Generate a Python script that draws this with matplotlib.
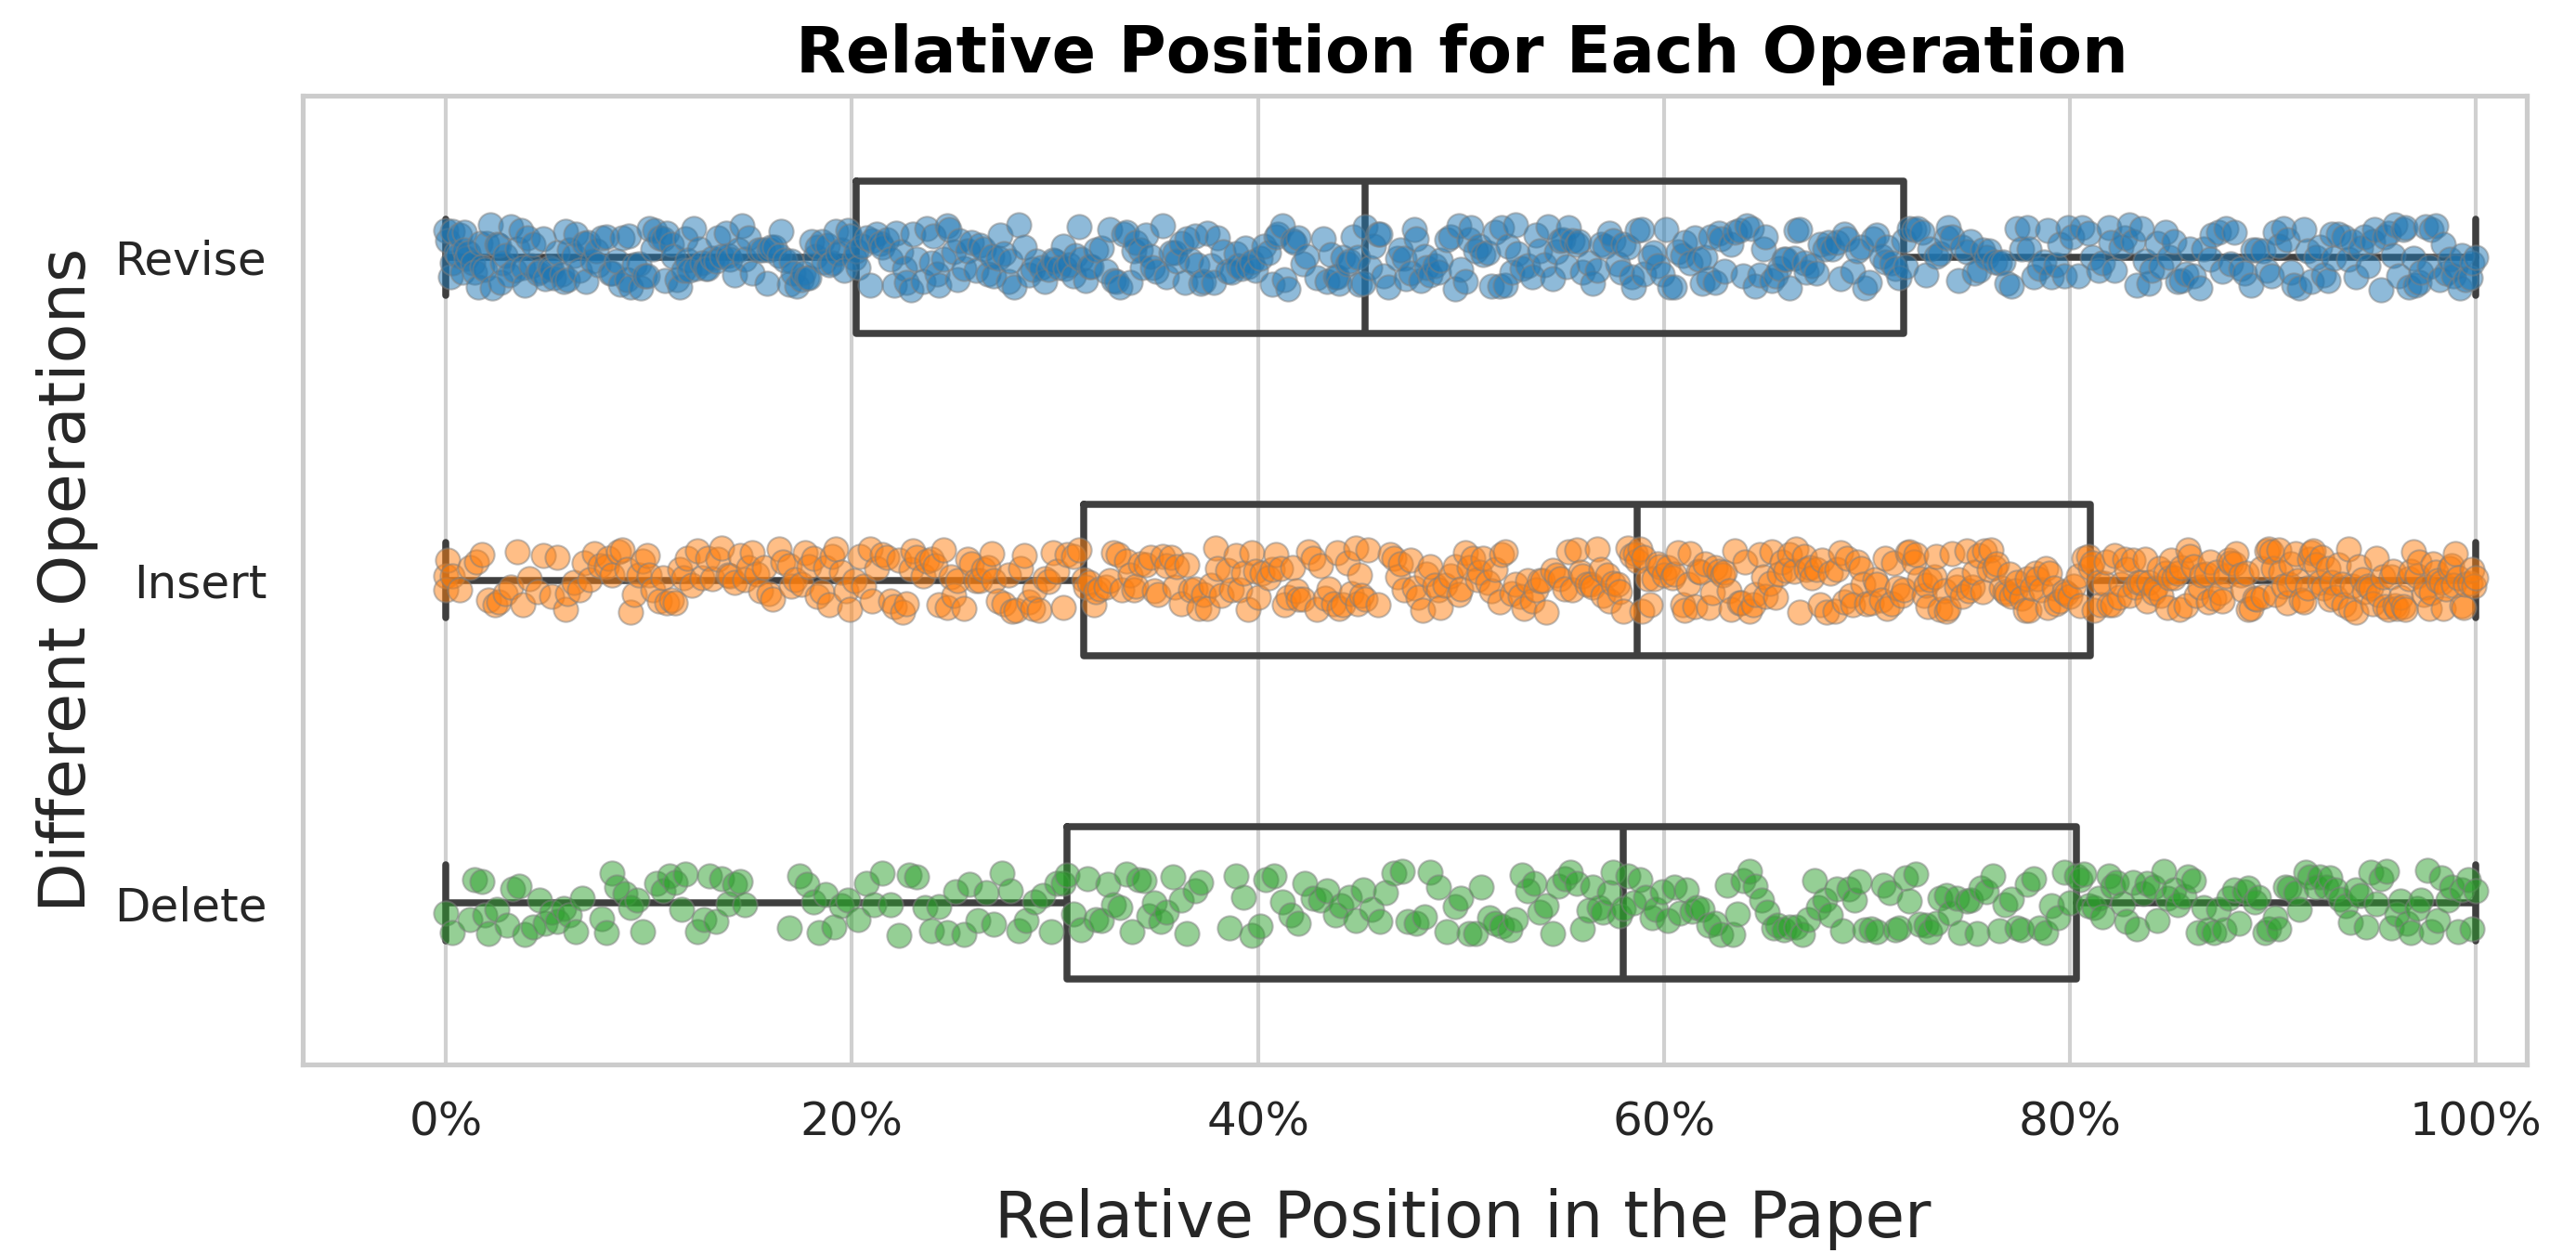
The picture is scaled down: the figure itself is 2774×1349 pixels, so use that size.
import numpy as np
import matplotlib
matplotlib.use('Agg')
import matplotlib.pyplot as plt
import seaborn as sns
from matplotlib.ticker import PercentFormatter

operations = ['Revise', 'Insert', 'Delete']
colors = ['#1f77b4', '#ff7f0e', '#2ca02c']
x_ticks = [0.0, 0.2, 0.4, 0.6, 0.8, 1.0]

# relative positions (in %)
revise_pct = [
    0.0, 0.1, 0.2, 0.3, 0.3, 0.5, 0.6, 0.7, 0.8, 0.9, 0.9,
    1.0, 1.1, 1.3, 1.4, 1.6, 1.7, 1.8, 1.9,
    2.0, 2.2, 2.3, 2.5, 2.6, 2.7, 2.8, 2.9,
    3.1, 3.2, 3.4, 3.5, 3.7, 3.8, 3.9,
    4.0, 4.2, 4.3, 4.5, 4.6, 4.8, 4.9,
    5.1, 5.2, 5.3, 5.5, 5.7, 5.8, 5.9,
    6.0, 6.1, 6.3, 6.4, 6.6, 6.8, 6.9,
    7.0, 7.2, 7.4, 7.5, 7.7, 7.9,
    8.1, 8.2, 8.4, 8.6, 8.7, 8.9,
    9.0, 9.1, 9.3, 9.5, 9.6, 9.8, 9.9,
    10.0, 10.2, 10.3, 10.5, 10.7, 10.8, 10.9,
    11.1, 11.2, 11.4, 11.5, 11.7, 11.8, 11.9,
    12.0, 12.2, 12.3, 12.5, 12.6, 12.8, 12.9,
    13.1, 13.3, 13.4, 13.6, 13.8, 13.9,
    14.0, 14.2, 14.4, 14.6, 14.7, 14.9,
    15.1, 15.4, 15.6, 15.8, 15.9,
    16.0, 16.2, 16.4, 16.5, 16.7, 16.9,
    17.0, 17.1, 17.3, 17.5, 17.6, 17.8, 17.9,
    18.0, 18.2, 18.3, 18.5, 18.6, 18.8, 18.9,
    19.0, 19.2, 19.3, 19.5, 19.6, 19.8, 19.9, 20.1,
    20.2,
    20.3, 20.5, 20.7, 20.9,
    21.0, 21.2, 21.4, 21.5, 21.7, 21.9,
    22.1, 22.2, 22.4, 22.6, 22.7, 22.9,
    23.0, 23.2, 23.5, 23.7, 23.9,
    24.0, 24.2, 24.3, 24.5, 24.7, 24.8,
    25.0, 25.2, 25.3, 25.5, 25.7, 25.9,
    26.1, 26.3, 26.5, 26.7, 26.9,
    27.0, 27.2, 27.3, 27.5, 27.7, 27.8,
    28.0, 28.2, 28.5, 28.7, 28.9,
    29.1, 29.3, 29.5, 29.7, 29.9,
    30.0, 30.2, 30.4, 30.5, 30.7, 30.9,
    31.0, 31.2, 31.3, 31.5, 31.7, 31.8,
    32.0, 32.3, 32.5, 32.7, 32.9,
    33.0, 33.2, 33.4, 33.5, 33.7, 33.9,
    34.0, 34.2, 34.3, 34.5, 34.7, 34.8,
    35.0, 35.3, 35.5, 35.7, 35.9,
    36.0, 36.2, 36.4, 36.5, 36.7, 36.9,
    37.0, 37.2, 37.3, 37.5, 37.7, 37.8,
    38.0, 38.3, 38.5, 38.7, 38.9,
    39.0, 39.2, 39.4, 39.5, 39.7, 39.9,
    40.1, 40.3, 40.5, 40.7, 40.9,
    41.0, 41.2, 41.3, 41.5, 41.7, 41.8,
    42.0, 42.2, 42.4, 42.9,
    43.2, 43.4, 43.6, 43.8, 43.9,
    44.0, 44.2, 44.4, 44.5, 44.7, 44.9,
    45.0, 45.2,
    45.3,
    45.5, 45.7, 45.9,
    46.0, 46.2, 46.4, 46.9,
    47.0, 47.2, 47.3, 47.5, 47.7, 47.8,
    48.0, 48.2, 48.3, 48.5, 48.7, 48.9,
    49.0, 49.3, 49.5, 49.7, 49.9,
    50.0, 50.2, 50.4, 50.5, 50.7, 50.9,
    51.1, 51.3, 51.5, 51.7, 51.9,
    52.0, 52.2, 52.3, 52.5, 52.7, 52.8,
    53.0, 53.3, 53.5, 53.7, 53.9,
    54.1, 54.3, 54.5, 54.7, 54.9,
    55.0, 55.2, 55.3, 55.5, 55.7, 55.8,
    56.0, 56.3, 56.5, 56.7, 56.9,
    57.1, 57.3, 57.5, 57.7, 57.9,
    58.0, 58.2, 58.4, 58.5, 58.7, 58.9,
    59.0, 59.3, 59.5, 59.7, 59.9,
    60.1, 60.3, 60.5, 60.7, 60.9,
    61.0, 61.3, 61.5, 61.7, 61.9,
    62.0, 62.2, 62.3, 62.5, 62.7, 62.8,
    63.0, 63.3, 63.5, 63.7, 63.9,
    64.1, 64.3, 64.5, 64.7, 64.9,
    65.0, 65.3, 65.5, 65.7, 65.9,
    66.0, 66.2, 66.4, 66.5, 66.7, 66.9,
    67.0, 67.3, 67.5, 67.7, 67.9,
    68.1, 68.3, 68.5, 68.7, 68.9,
    69.0, 69.3, 69.5, 69.7, 69.9,
    70.1, 70.3, 70.5, 70.7, 70.9,
    71.0, 71.2, 71.4, 71.6,
    71.8,
    71.9,
    72.1, 72.3, 72.5, 72.7, 72.9,
    73.1, 73.4, 73.6, 73.9,
    74.0, 74.2, 74.5, 74.7, 74.9,
    75.1, 75.3, 75.5, 75.7, 75.9,
    76.0, 76.3, 76.5, 76.7, 76.9,
    77.1, 77.4, 77.6, 77.9,
    78.0, 78.2, 78.5, 78.7, 78.9,
    79.1, 79.3, 79.5, 79.7, 79.9,
    80.1, 80.4, 80.6, 80.9,
    81.1, 81.4, 81.6, 81.9,
    82.0, 82.2, 82.5, 82.7, 82.9,
    83.1, 83.3, 83.5, 83.7, 83.9,
    84.0, 84.3, 84.5, 84.7, 84.9,
    85.1, 85.3, 85.5, 85.7, 85.9,
    86.1, 86.4, 86.6, 86.9,
    87.0, 87.3, 87.5, 87.7, 87.9,
    88.1, 88.4, 88.6, 88.9,
    89.0, 89.2, 89.5, 89.7, 89.9,
    90.1, 90.3, 90.5, 90.7, 90.9,
    91.0, 91.3, 91.5, 91.7, 91.9,
    92.1, 92.3, 92.5, 92.7, 92.9,
    93.0, 93.2, 93.5, 93.7, 93.9,
    94.1, 94.3, 94.5, 94.7, 94.9,
    95.0, 95.3, 95.5, 95.7, 95.9,
    96.0, 96.2, 96.4, 96.5, 96.7, 96.9,
    97.0, 97.2, 97.3, 97.5, 97.7, 97.8,
    98.0, 98.2, 98.4, 98.5, 98.7, 98.9,
    99.0, 99.2, 99.3, 99.5, 99.7, 99.8,
    100.0,
]

insert_pct = [
    0.0, 0.0, 0.1, 0.3, 0.7,
    1.2, 1.5, 1.8,
    2.1, 2.4, 2.6, 2.9,
    3.2, 3.5, 3.8,
    4.1, 4.5, 4.8,
    5.2, 5.5, 5.9,
    6.0, 6.3, 6.6, 6.8,
    7.1, 7.3, 7.6, 7.9,
    8.0, 8.2, 8.5, 8.7, 8.9,
    9.1, 9.3, 9.5, 9.7, 9.9,
    10.0, 10.2, 10.5, 10.7, 10.9,
    11.1, 11.3, 11.5, 11.7, 11.9,
    12.1, 12.4, 12.6, 12.9,
    13.1, 13.4, 13.6, 13.9,
    14.0, 14.2, 14.5, 14.7, 14.9,
    15.1, 15.3, 15.5, 15.7, 15.9,
    16.1, 16.4, 16.6, 16.9,
    17.0, 17.2, 17.5, 17.7, 17.9,
    18.1, 18.3, 18.5, 18.7, 18.9,
    19.0, 19.2, 19.5, 19.7, 19.9,
    20.1, 20.4, 20.6, 20.9,
    21.0, 21.2, 21.5, 21.7, 21.9,
    22.1, 22.3, 22.5, 22.7, 22.9,
    23.0, 23.2, 23.5, 23.7, 23.9,
    24.1, 24.3, 24.5, 24.7, 24.9,
    25.0, 25.2, 25.5, 25.7, 25.9,
    26.1, 26.3, 26.5, 26.7, 26.9,
    27.0, 27.2, 27.5, 27.7, 27.9,
    28.1, 28.3, 28.5, 28.7, 28.9,
    29.0, 29.2, 29.5, 29.7, 29.9,
    30.1, 30.4, 30.6, 30.9,
    31.2,
    31.4,
    31.5, 31.7, 31.9,
    32.0, 32.2, 32.5, 32.7, 32.9,
    33.1, 33.3, 33.5, 33.7, 33.9,
    34.0, 34.2, 34.5, 34.7, 34.9,
    35.1, 35.3, 35.5, 35.7, 35.9,
    36.0, 36.2, 36.5, 36.7, 36.9,
    37.1, 37.3, 37.5, 37.7, 37.9,
    38.0, 38.2, 38.5, 38.7, 38.9,
    39.1, 39.3, 39.5, 39.7, 39.9,
    40.0, 40.2, 40.5, 40.7, 40.9,
    41.1, 41.3, 41.5, 41.7, 41.9,
    42.0, 42.2, 42.5, 42.7, 42.9,
    43.1, 43.3, 43.5, 43.7, 43.9,
    44.0, 44.2, 44.4, 44.6, 44.8, 44.9,
    45.0, 45.1, 45.3, 45.4, 45.9,
    46.5, 46.7, 46.9,
    47.0, 47.2, 47.5, 47.7, 47.9,
    48.1, 48.3, 48.5, 48.7, 48.9,
    49.0, 49.2, 49.5, 49.7, 49.9,
    50.0, 50.2, 50.4, 50.6, 50.8, 50.9,
    51.1, 51.3, 51.5, 51.7, 51.9,
    52.0, 52.2, 52.5, 52.7, 52.9,
    53.1, 53.3, 53.5, 53.7, 53.9,
    54.0, 54.2, 54.5, 54.7, 54.9,
    55.1, 55.3, 55.5, 55.7, 55.9,
    56.0, 56.2, 56.4, 56.5, 56.7, 56.9,
    57.0, 57.2, 57.3, 57.5, 57.7, 57.8,
    58.0, 58.2, 58.4, 58.6,
    58.7,
    58.8, 58.9,
    59.0, 59.2, 59.3, 59.5, 59.7, 59.8,
    60.0, 60.2, 60.4, 60.5, 60.7, 60.9,
    61.0, 61.2, 61.3, 61.5, 61.7, 61.8,
    62.0, 62.2, 62.4, 62.5, 62.7, 62.9,
    63.0, 63.2, 63.3, 63.5, 63.7, 63.8,
    64.0, 64.2, 64.4, 64.5, 64.7, 64.9,
    65.0, 65.2, 65.3, 65.5, 65.7, 65.8,
    66.0, 66.2, 66.4, 66.5, 66.7, 66.9,
    67.0, 67.2, 67.3, 67.5, 67.7, 67.8,
    68.0, 68.2, 68.4, 68.5, 68.7, 68.9,
    69.0, 69.2, 69.3, 69.5, 69.7, 69.8,
    70.0, 70.2, 70.4, 70.5, 70.7, 70.9,
    71.0, 71.2, 71.3, 71.5, 71.7, 71.8,
    72.0, 72.1, 72.3, 72.4, 72.6, 72.8, 72.9,
    73.0, 73.1, 73.3, 73.4, 73.6, 73.8, 73.9,
    74.0, 74.2, 74.4, 74.5, 74.7, 74.9,
    75.0, 75.2, 75.3, 75.5, 75.7, 75.8,
    76.0, 76.1, 76.3, 76.4, 76.6, 76.8, 76.9,
    77.0, 77.1, 77.3, 77.4, 77.6, 77.8, 77.9,
    78.0, 78.1, 78.3, 78.4, 78.6, 78.8, 78.9,
    79.0, 79.2, 79.3, 79.5, 79.7, 79.8,
    80.0, 80.2, 80.4, 80.5, 80.7, 80.9,
    81.0,
    81.1, 81.2, 81.4, 81.5, 81.7, 81.8, 81.9,
    82.1, 82.2, 82.4, 82.5, 82.7, 82.8, 82.9,
    83.1, 83.2, 83.4, 83.5, 83.7, 83.8, 83.9,
    84.1, 84.2, 84.4, 84.5, 84.7, 84.8, 84.9,
    85.0, 85.1, 85.3, 85.4, 85.5, 85.7, 85.8, 85.9,
    86.1, 86.2, 86.4, 86.5, 86.7, 86.8, 86.9,
    87.1, 87.2, 87.4, 87.5, 87.7, 87.8, 87.9,
    88.1, 88.2, 88.4, 88.5, 88.7, 88.8, 88.9,
    89.1, 89.2, 89.4, 89.5, 89.7, 89.8, 89.9,
    90.0, 90.1, 90.3, 90.4, 90.5, 90.7, 90.8, 90.9,
    91.1, 91.2, 91.4, 91.5, 91.7, 91.8, 91.9,
    92.0, 92.1, 92.3, 92.4, 92.5, 92.7, 92.8, 92.9,
    93.1, 93.2, 93.4, 93.5, 93.7, 93.8, 93.9,
    94.1, 94.2, 94.4, 94.5, 94.7, 94.8, 94.9,
    95.1, 95.2, 95.4, 95.5, 95.7, 95.8, 95.9,
    96.0, 96.1, 96.3, 96.4, 96.5, 96.7, 96.8, 96.9,
    97.1, 97.2, 97.4, 97.5, 97.7, 97.8, 97.9,
    98.0, 98.1, 98.3, 98.4, 98.5, 98.7, 98.8, 98.9,
    99.0, 99.1, 99.3, 99.4, 99.5, 99.7, 99.8, 99.9,
    100.0,
]

delete_pct = [
    0.0, 0.3, 1.2, 1.4, 1.8, 1.9,
    2.1, 2.5, 3.0, 3.3, 3.6, 3.9,
    4.3, 4.6, 4.9, 5.2, 5.5, 5.8,
    6.1, 6.4, 6.7, 7.7, 7.9,
    8.2, 8.4, 8.8, 9.1, 9.4, 9.7,
    10.4, 10.7, 11.0, 11.3, 11.6, 11.8,
    12.4, 12.7, 13.0, 13.3, 13.6, 13.9,
    14.2, 14.5, 14.7,
    16.9, 17.4, 17.8,
    18.1, 18.4, 18.7, 19.1, 19.5, 19.8,
    20.3, 20.7, 21.1, 21.5, 21.9,
    22.3, 22.8, 23.2, 23.6, 23.9,
    24.3, 24.7, 25.1, 25.5, 25.8,
    26.2, 26.6, 27.0, 27.4, 27.8,
    28.2, 28.6, 29.0, 29.4, 29.8, 30.1, 30.4,
    30.6,
    30.9, 31.3, 31.6, 32.0, 32.3, 32.6, 32.9,
    33.2, 33.5, 33.8, 34.1, 34.4, 34.6, 34.9,
    35.2, 35.5, 35.8, 36.2, 36.5, 36.9, 37.2,
    38.6, 38.9, 39.3, 39.7, 40.1, 40.4, 40.8,
    41.2, 41.6, 42.0, 42.3, 42.7, 43.1, 43.4, 43.8,
    44.1, 44.5, 44.8, 45.2, 45.6, 46.0, 46.3, 46.7,
    47.1, 47.4, 47.8, 48.2, 48.5, 48.9, 49.3, 49.7,
    50.0, 50.4, 50.7, 51.0, 51.4, 51.7, 52.0, 52.4, 52.7,
    53.0, 53.3, 53.6, 53.9, 54.2, 54.5, 54.8, 55.1, 55.4, 55.7,
    56.0, 56.3, 56.5, 56.8, 57.0, 57.3, 57.5, 57.8,
    58.0,
    58.2, 58.5, 58.8, 59.1, 59.4, 59.6, 59.9,
    60.2, 60.5, 60.8, 61.1, 61.4, 61.6, 61.9,
    62.2, 62.5, 62.8, 63.1, 63.4, 63.6, 63.9,
    64.2, 64.5, 64.8, 65.1, 65.4, 65.6, 65.9,
    66.2, 66.5, 66.8, 67.1, 67.4, 67.6, 67.9,
    68.2, 68.5, 68.8, 69.1, 69.4, 69.6, 69.9,
    70.2, 70.5, 70.8, 71.1, 71.4, 71.6, 71.9,
    72.1, 72.4, 72.6, 72.9, 73.1, 73.4, 73.6, 73.9,
    74.1, 74.4, 74.6, 74.9, 75.1, 75.4, 75.6, 75.9,
    76.2, 76.5, 76.8, 77.1, 77.4, 77.6, 77.9,
    78.2, 78.5, 78.8, 79.1, 79.4, 79.7, 80.0,
    80.3,
    80.5, 80.7, 80.9, 81.2, 81.4, 81.6, 81.9,
    82.1, 82.3, 82.6, 82.8, 83.1, 83.3, 83.6, 83.8,
    84.1, 84.3, 84.6, 84.8, 85.1, 85.3, 85.6, 85.8,
    86.1, 86.3, 86.6, 86.8, 87.1, 87.3, 87.6, 87.8,
    88.1, 88.3, 88.6, 88.8, 89.1, 89.3, 89.6, 89.8,
    90.1, 90.3, 90.6, 90.8, 91.1, 91.3, 91.6, 91.8,
    92.1, 92.3, 92.6, 92.8, 93.1, 93.3, 93.6, 93.8,
    94.1, 94.3, 94.6, 94.8, 95.1, 95.3, 95.6, 95.8,
    96.1, 96.3, 96.6, 96.8, 97.1, 97.3, 97.6, 97.8,
    98.1, 98.3, 98.6, 98.8, 99.1, 99.3, 99.6, 99.8,
    100.0,
]

sns.set_theme(style='whitegrid')
plt.rcParams['font.family'] = ['DejaVu Sans']

W, H, DPI = 2774, 1349, 300
fig = plt.figure(figsize=(W / DPI, H / DPI), dpi=DPI)
ax = fig.add_axes([326 / W, 1 - 1146 / H, (2721 - 326) / W, (1146 - 103) / H])

data = [np.asarray(v) / 100.0 for v in (revise_pct, insert_pct, delete_pct)]
line_c = '#3f3f3f'
lw = 1.8
ax.boxplot(data, positions=[0, 1, 2], orientation='horizontal', widths=0.47,
           showfliers=False, patch_artist=False, manage_ticks=False,
           boxprops=dict(color=line_c, linewidth=lw),
           whiskerprops=dict(color=line_c, linewidth=lw),
           capprops=dict(color=line_c, linewidth=lw),
           medianprops=dict(color=line_c, linewidth=lw),
           zorder=2)

rng = np.random.default_rng(3)
for i, (vals, c) in enumerate(zip(data, colors)):
    yj = i + rng.uniform(-0.1, 0.1, size=len(vals))
    ax.scatter(vals, yj, s=6.3 ** 2, color=c, alpha=0.5, edgecolors='gray',
               linewidths=0.5, zorder=3)

ax.set_xlim(-0.0705, 1.025)
ax.set_ylim(2.5, -0.5)
ax.set_yticks([0, 1, 2])
ax.set_yticklabels(operations)
ax.set_xticks(x_ticks)
ax.xaxis.set_major_formatter(PercentFormatter(1.0, decimals=0))
ax.tick_params(axis='both', length=0, pad=9.3, labelsize=12, labelcolor='#262626')
ax.grid(axis='x', color='#d0d0d0', linewidth=1.0)
ax.yaxis.grid(False)
for s in ax.spines.values():
    s.set_color('#cccccc')
    s.set_linewidth(1.25)

ax.set_xlabel('Relative Position in the Paper', fontsize=16.6, color='#262626',
              labelpad=11, x=0.5214)
ax.set_ylabel('Different Operations', fontsize=16.8, color='#262626', labelpad=4)
ax.set_title('Relative Position for Each Operation', fontsize=16.8, fontweight='bold',
             color='black', pad=6, x=0.5214)

fig.savefig('out.png', dpi=DPI)
